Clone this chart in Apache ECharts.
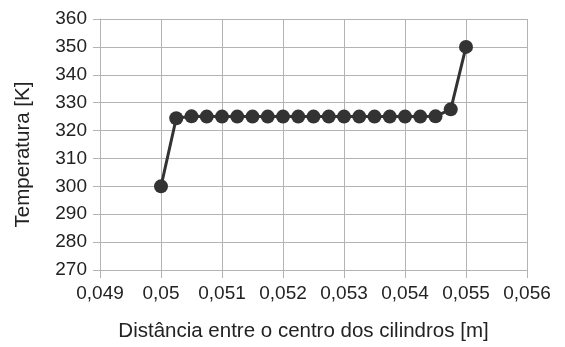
<!DOCTYPE html>
<html><head><meta charset="utf-8">
<script src="https://cdn.jsdelivr.net/npm/echarts@6/dist/echarts.min.js"></script>
<style>html,body{margin:0;padding:0;background:#fff}#c{width:565px;height:347px}</style>
</head><body><div id="c"></div>
<script>
var xValues = [0.05,0.05025,0.0505,0.05075,0.051,0.05125,0.0515,0.05175,0.052,0.05225,0.0525,0.05275,0.053,0.05325,0.0535,0.05375,0.054,0.05425,0.0545,0.05475,0.055];
var yValues = [300,324.4,325.1,325,325,325,325,325,325,325,325,325,325,325,325,325,325,325,325.1,327.6,350];
var xTickLabels = ['0,049','0,05','0,051','0,052','0,053','0,054','0,055','0,056'];
var yTickLabels = ['270','280','290','300','310','320','330','340','350','360'];
var xName = 'Distância entre o centro dos cilindros [m]';
var yName = 'Temperatura [K]';

var data = xValues.map(function(x,i){return [x,yValues[i]];});
var chart = echarts.init(document.getElementById('c'));
var font = 'Liberation Sans';
chart.setOption({
  animation:false,
  grid:{left:100,right:38,top:19,bottom:76,containLabel:false},
  xAxis:{type:'value',min:0.049,max:0.056,interval:0.001,
    name:xName,nameLocation:'middle',nameGap:51,
    nameTextStyle:{fontFamily:font,fontSize:20.5,color:'#222',padding:[0,20,0,0]},
    axisLine:{show:true,lineStyle:{color:'#b3b3b3',width:1}},
    axisTick:{show:true,length:8,lineStyle:{color:'#b3b3b3'}},
    splitLine:{show:true,lineStyle:{color:'#b3b3b3'}},
    axisLabel:{fontFamily:font,fontSize:19,color:'#222',margin:14,
      formatter:function(v){return xTickLabels[Math.round((v-0.049)/0.001)];}}
  },
  yAxis:{type:'value',min:270,max:360,interval:10,
    name:yName,nameLocation:'middle',nameGap:66,nameRotate:90,
    nameTextStyle:{fontFamily:font,fontSize:20.5,color:'#222',padding:[0,20,0,0]},
    axisLine:{show:true,lineStyle:{color:'#b3b3b3',width:1}},
    axisTick:{show:true,length:7,lineStyle:{color:'#b3b3b3'}},
    splitLine:{show:true,lineStyle:{color:'#b3b3b3'}},
    axisLabel:{fontFamily:font,fontSize:19,color:'#222',margin:13,
      formatter:function(v){return yTickLabels[Math.round((v-270)/10)];}}
  },
  series:[{type:'line',data:data,symbol:'circle',symbolSize:14,
    lineStyle:{color:'#333333',width:3},
    itemStyle:{color:'#333333'}}]
});
</script></body></html>
